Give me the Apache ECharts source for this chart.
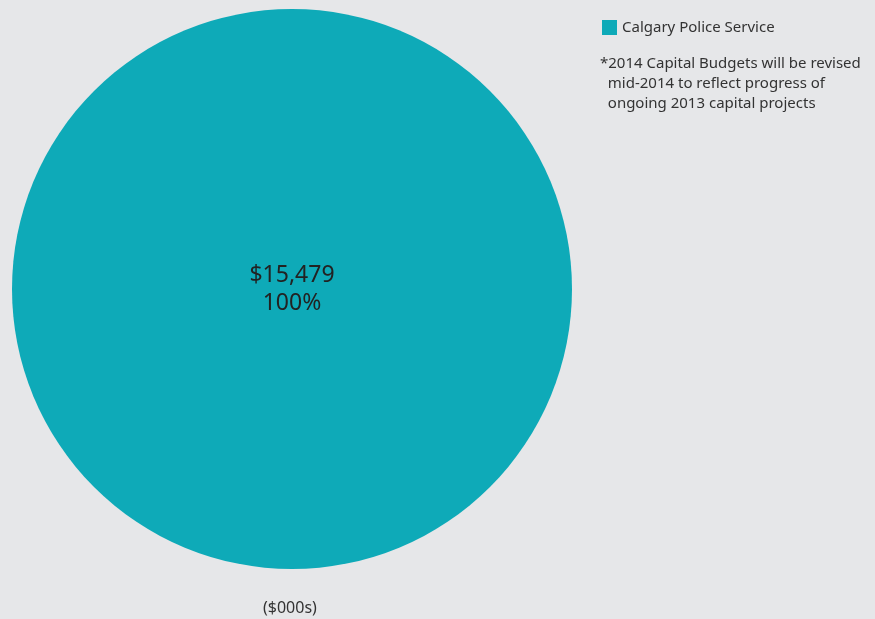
<!DOCTYPE html>
<html>
<head>
<meta charset="utf-8">
<script src="https://cdn.jsdelivr.net/npm/echarts@6/dist/echarts.min.js"></script>
<style>
  html, body { margin: 0; padding: 0; background: #e6e7e9; }
  #chart { width: 875px; height: 619px; }
</style>
</head>
<body>
<div id="chart"></div>
<script>
// data
var categories = ["Calgary Police Service"];
var values = [15479];
var note = "*2014 Capital Budgets will be revised\n  mid-2014 to reflect progress of\n  ongoing 2013 capital projects";
var unitLabel = "($000s)";

var total = values.reduce(function (a, b) { return a + b; }, 0);
var font = "'Noto Sans', 'Open Sans', sans-serif";

var myChart = echarts.init(document.getElementById("chart"));
var option = {
  backgroundColor: "#e6e7e9",
  color: ["#0eaab8"],
  textStyle: { fontFamily: font },
  legend: {
    orient: "vertical",
    left: 597,
    top: 15,
    itemWidth: 15,
    itemHeight: 15,
    itemGap: 6,
    icon: "rect",
    textStyle: { fontSize: 15, color: "#333", fontFamily: font },
    data: categories
  },
  graphic: [
    {
      type: "text",
      left: 600,
      top: 54,
      style: {
        text: note,
        fontSize: 15,
        lineHeight: 20,
        fill: "#333",
        fontFamily: font
      }
    },
    {
      type: "text",
      left: 263,
      top: 600,
      style: {
        text: unitLabel,
        fontSize: 16,
        fill: "#333",
        fontFamily: font
      }
    }
  ],
  series: [
    {
      type: "pie",
      center: [292, 289],
      radius: [0, 280],
      silent: true,
      label: {
        show: true,
        position: "center",
        fontSize: 23,
        lineHeight: 28,
        padding: [0, 0, 4, 0],
        color: "#222",
        fontFamily: font,
        formatter: function (p) {
          return "$" + p.value.toLocaleString("en-US") + "\n" + Math.round(p.value / total * 100) + "%";
        }
      },
      labelLine: { show: false },
      data: categories.map(function (name, i) {
        return { name: name, value: values[i] };
      })
    }
  ]
};
myChart.setOption(option, true);
</script>
</body>
</html>
